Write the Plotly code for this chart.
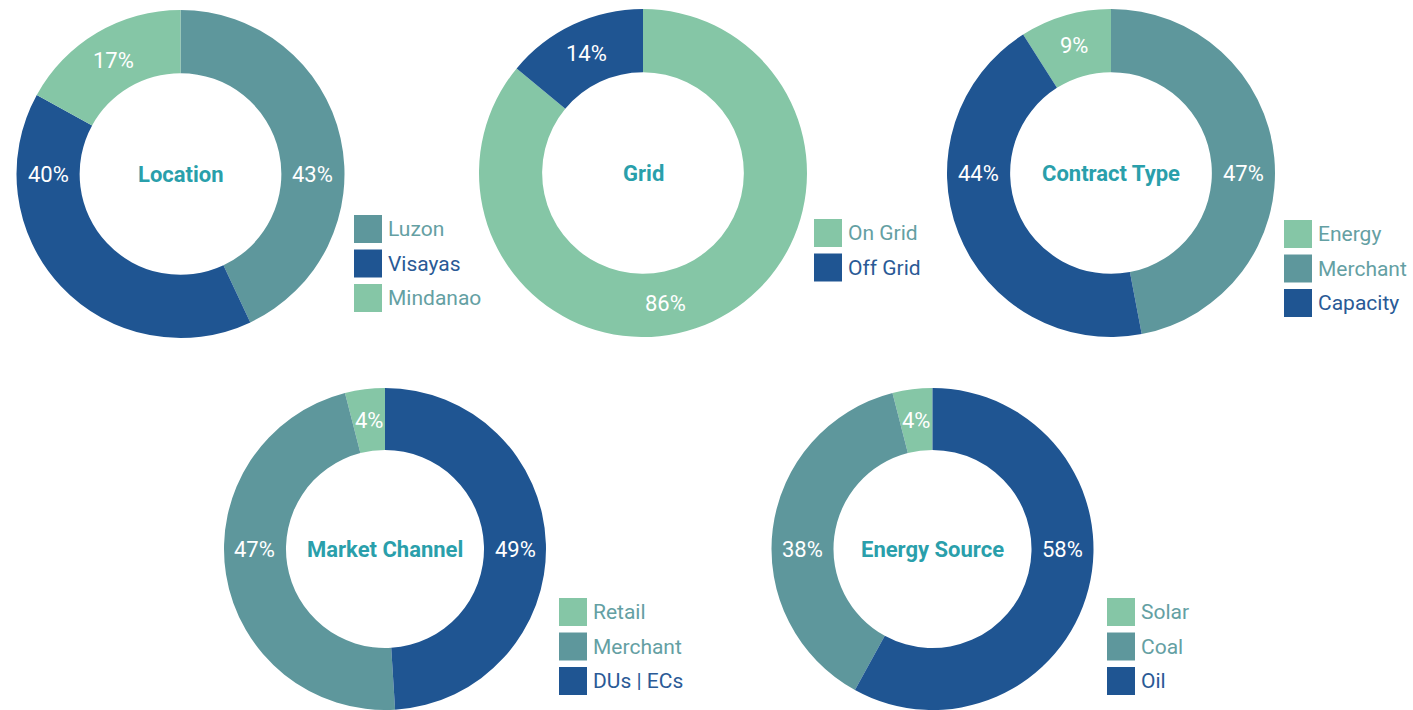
import math
import plotly.graph_objects as go

W, H = 1413, 710

TEAL = "#5e979c"
BLUE = "#1f5592"
GREEN = "#85c6a6"
TITLE_COLOR = "#2a9fab"
TEXT_TEAL = "#64a0a3"
TEXT_BLUE = "#2a5a96"
FONT = "Roboto, Inter, sans-serif"

# --- data -------------------------------------------------------------
location_labels = ["Luzon", "Visayas", "Mindanao"]
location_values = [43, 40, 17]
location_colors = [TEAL, BLUE, GREEN]

grid_labels = ["On Grid", "Off Grid"]
grid_values = [86, 14]
grid_colors = [GREEN, BLUE]

contract_labels = ["Energy", "Merchant", "Capacity"]
contract_values = [9, 47, 44]
contract_colors = [GREEN, TEAL, BLUE]

channel_labels = ["Retail", "Merchant", "DUs | ECs"]
channel_values = [4, 47, 49]
channel_colors = [GREEN, TEAL, BLUE]

source_labels = ["Solar", "Coal", "Oil"]
source_values = [4, 38, 58]
source_colors = [GREEN, TEAL, BLUE]

HOLE = 0.615

# --- placement of each donut: centre / radius in px, slice direction,
# angle (deg clockwise from 12 o'clock) where each percentage label sits,
# and top-left of the legend block
panels = [
    dict(title="Location", labels=location_labels, values=location_values,
         colors=location_colors, cx=180.5, cy=174, r=164,
         direction="clockwise", first_back=False,
         label_angles=[90, 270, None], lx=354, ly=229),
    dict(title="Grid", labels=grid_labels, values=grid_values,
         colors=grid_colors, cx=643, cy=173, r=164,
         direction="clockwise", first_back=False,
         label_angles=[170, None], lx=814, ly=233),
    dict(title="Contract Type", labels=contract_labels, values=contract_values,
         colors=contract_colors, cx=1111, cy=173, r=164,
         direction="clockwise", first_back=True,
         label_angles=[None, 90, 270], lx=1284, ly=234),
    dict(title="Market Channel", labels=channel_labels, values=channel_values,
         colors=channel_colors, cx=385, cy=549, r=161,
         direction="counterclockwise", first_back=True,
         label_angles=[None, 270, 90], lx=559, ly=612),
    dict(title="Energy Source", labels=source_labels, values=source_values,
         colors=source_colors, cx=932.5, cy=549, r=161,
         direction="counterclockwise", first_back=True,
         label_angles=[None, 270, 90], lx=1107, ly=612),
]

fig = go.Figure()
shapes = []
annotations = []

SQ = 28      # legend swatch size
ROW = 34.5   # legend row spacing


def slice_mid_angles(values, direction, first_back):
    """Mid angle of every slice, degrees clockwise from 12 o'clock."""
    total = sum(values)
    sign = 1 if direction == "clockwise" else -1
    start = -sign * 360 * values[0] / total if first_back else 0
    if first_back and direction == "counterclockwise":
        start = 0
    mids = []
    a = start
    for v in values:
        span = 360 * v / total
        mids.append(a + sign * span / 2)
        a += sign * span
    return mids


for p in panels:
    cx, cy, r = p["cx"], p["cy"], p["r"]
    vals = p["values"]
    total = sum(vals)
    rot = -360 * vals[0] / total if p["first_back"] else 0
    fig.add_trace(go.Pie(
        labels=p["labels"],
        values=vals,
        marker=dict(colors=p["colors"], line=dict(width=0)),
        hole=HOLE,
        sort=False,
        direction=p["direction"],
        rotation=rot,
        textinfo="none",
        showlegend=False,
        domain=dict(x=[(cx - r) / W, (cx + r) / W],
                    y=[max(0, 1 - (cy + r) / H), min(1, 1 - (cy - r) / H)]),
        hoverinfo="label+percent",
    ))

    # percentage labels on the ring
    mids = slice_mid_angles(vals, p["direction"], p["first_back"])
    rm = r * (1 + HOLE) / 2
    for v, mid, ang in zip(vals, mids, p["label_angles"]):
        a = math.radians(mid if ang is None else ang)
        x = cx + rm * math.sin(a)
        y = cy - rm * math.cos(a)
        annotations.append(dict(
            x=x / W, y=1 - y / H, xref="paper", yref="paper",
            text=f"{round(100 * v / total)}%", showarrow=False,
            font=dict(size=22, color="white", family=FONT),
            xanchor="center", yanchor="middle",
        ))

    # title in the hole
    annotations.append(dict(
        x=cx / W, y=1 - cy / H, xref="paper", yref="paper",
        text=f"<b>{p['title']}</b>", showarrow=False,
        font=dict(size=22, color=TITLE_COLOR, family=FONT),
        xanchor="center", yanchor="middle",
    ))

    # legend: swatch + label per category
    for i, (lab, col) in enumerate(zip(p["labels"], p["colors"])):
        yc = p["ly"] + i * ROW
        shapes.append(dict(
            type="rect", xref="paper", yref="paper",
            x0=p["lx"] / W, x1=(p["lx"] + SQ) / W,
            y0=1 - (yc + SQ / 2) / H, y1=1 - (yc - SQ / 2) / H,
            fillcolor=col, line=dict(width=0),
        ))
        annotations.append(dict(
            x=(p["lx"] + SQ + 4) / W, y=1 - yc / H, xref="paper", yref="paper",
            text=lab, showarrow=False,
            font=dict(size=21, color=TEXT_BLUE if col == BLUE else TEXT_TEAL, family=FONT),
            xanchor="left", yanchor="middle",
        ))

fig.update_layout(
    width=W, height=H,
    margin=dict(l=0, r=0, t=0, b=0),
    paper_bgcolor="white",
    plot_bgcolor="white",
    shapes=shapes,
    annotations=annotations,
)

fig.write_html("out.html")
